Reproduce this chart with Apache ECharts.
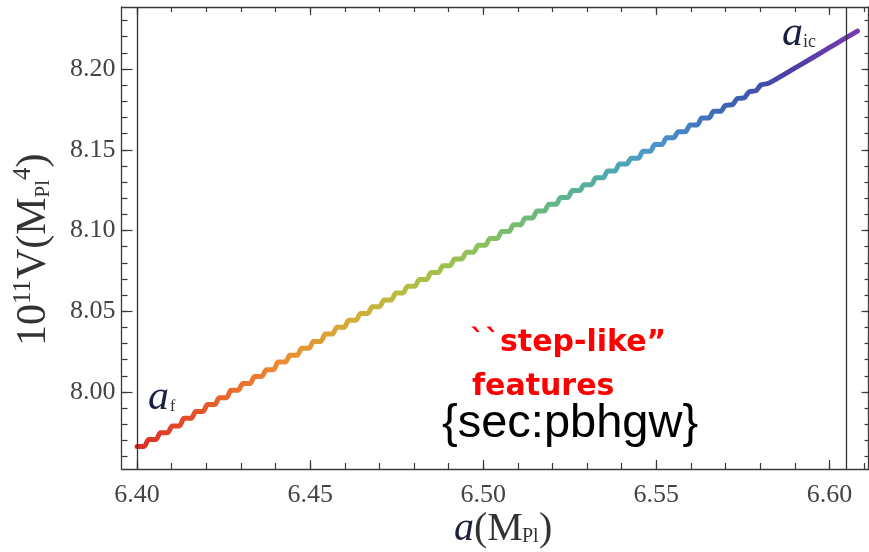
<!DOCTYPE html>
<html><head><meta charset="utf-8">
<script src="https://cdn.jsdelivr.net/npm/echarts@6/dist/echarts.min.js"></script>
<style>html,body{margin:0;padding:0;background:#fff}#c{width:869px;height:552px}</style>
</head><body><div id="c"></div>
<script>
// field values a (M_Pl)
const aValues = [
6.4000,6.4020,6.4034,6.4054,6.4068,6.4088,6.4102,6.4122,6.4136,6.4156,
6.4170,6.4190,6.4204,6.4224,6.4238,6.4258,6.4272,6.4292,6.4306,6.4326,
6.4340,6.4360,6.4374,6.4394,6.4408,6.4428,6.4442,6.4462,6.4476,6.4496,
6.4510,6.4530,6.4544,6.4564,6.4578,6.4598,6.4612,6.4632,6.4646,6.4666,
6.4680,6.4700,6.4714,6.4734,6.4748,6.4768,6.4782,6.4802,6.4816,6.4836,
6.4850,6.4870,6.4884,6.4904,6.4918,6.4938,6.4952,6.4972,6.4986,6.5006,
6.5020,6.5040,6.5054,6.5074,6.5088,6.5108,6.5122,6.5142,6.5156,6.5176,
6.5190,6.5210,6.5224,6.5244,6.5258,6.5278,6.5292,6.5312,6.5326,6.5346,
6.5360,6.5380,6.5394,6.5414,6.5428,6.5448,6.5462,6.5482,6.5496,6.5516,
6.5530,6.5550,6.5564,6.5584,6.5598,6.5618,6.5632,6.5652,6.5666,6.5686,
6.5700,6.5720,6.5734,6.5754,6.5768,6.5788,6.5802,6.5822,
6.5850,6.5900,6.5950,6.6000,6.6040,6.6081];
// potential values 10^11 V (M_Pl^4)
const vValues = [
7.9663,7.9663,7.9705,7.9705,7.9748,7.9748,7.9790,7.9790,7.9837,7.9837,
7.9879,7.9879,7.9922,7.9922,7.9964,7.9964,8.0011,8.0011,8.0053,8.0053,
8.0096,8.0096,8.0138,8.0138,8.0185,8.0185,8.0227,8.0227,8.0270,8.0270,
8.0312,8.0312,8.0359,8.0359,8.0401,8.0401,8.0444,8.0444,8.0486,8.0486,
8.0528,8.0528,8.0570,8.0570,8.0613,8.0613,8.0655,8.0655,8.0697,8.0697,
8.0740,8.0740,8.0782,8.0782,8.0824,8.0824,8.0866,8.0866,8.0909,8.0909,
8.0951,8.0951,8.0993,8.0993,8.1035,8.1035,8.1078,8.1078,8.1120,8.1120,
8.1162,8.1162,8.1204,8.1204,8.1247,8.1247,8.1284,8.1284,8.1326,8.1326,
8.1368,8.1368,8.1411,8.1411,8.1448,8.1448,8.1490,8.1490,8.1532,8.1532,
8.1575,8.1575,8.1612,8.1612,8.1654,8.1654,8.1697,8.1697,8.1739,8.1739,
8.1775,8.1779,8.1817,8.1822,8.1859,8.1866,8.1901,8.1910,
8.1942,8.2005,8.2068,8.2132,8.2183,8.2235];
const xMajorTicks = [6.40, 6.45, 6.50, 6.55, 6.60];
const xMinorTicks = [6.40,6.41,6.42,6.43,6.44,6.45,6.46,6.47,6.48,6.49,6.50,6.51,6.52,6.53,6.54,6.55,6.56,6.57,6.58,6.59,6.60,6.61];
const yMajorTicks = [8.00, 8.05, 8.10, 8.15, 8.20];
const yMinorTicks = [7.96,7.97,7.98,7.99,8.00,8.01,8.02,8.03,8.04,8.05,8.06,8.07,8.08,8.09,8.10,8.11,8.12,8.13,8.14,8.15,8.16,8.17,8.18,8.19,8.20,8.21,8.22,8.23];
const markerLines = [6.40, 6.605];
const X_MIN = 6.3955, X_MAX = 6.6113, Y_MIN = 7.9523, Y_MAX = 8.2384;

const chart = echarts.init(document.getElementById('c'));
const frame = '#3a3a3a';
function xAx(pos, ticks, len, line, labels) {
  return {type:'value', position:pos, min:X_MIN, max:X_MAX,
    axisLine:{show:line, onZero:false, lineStyle:{color:frame, width:1.3}},
    axisTick:{show:true, inside:true, length:len, customValues:ticks, lineStyle:{color:frame, width:1.2}},
    axisLabel: labels ? {show:true, customValues:xMajorTicks, formatter:v=>v.toFixed(2), margin:13,
      fontSize:26, fontFamily:'Liberation Serif', color:'#444'} : {show:false},
    splitLine:{show:false}};
}
function yAx(pos, ticks, len, line, labels) {
  return {type:'value', position:pos, min:Y_MIN, max:Y_MAX,
    axisLine:{show:line, onZero:false, lineStyle:{color:frame, width:1.3}},
    axisTick:{show:true, inside:true, length:len, customValues:ticks, lineStyle:{color:frame, width:1.2}},
    axisLabel: labels ? {show:true, customValues:yMajorTicks, formatter:v=>v.toFixed(2), margin:6,
      fontSize:26, fontFamily:'Liberation Serif', color:'#444'} : {show:false},
    splitLine:{show:false}};
}
const data = aValues.map((a,i)=>[a, vValues[i]]);
const grad = new echarts.graphic.LinearGradient(0,0,1,0,[
  {offset:0, color:'#dc2b26'},{offset:0.12, color:'#e8642c'},{offset:0.2, color:'#ee8a30'},
  {offset:0.3, color:'#d4ac38'},{offset:0.38, color:'#b3be40'},{offset:0.47, color:'#8dc25a'},
  {offset:0.58, color:'#62b688'},{offset:0.66, color:'#4ea8b0'},{offset:0.72, color:'#4a94cf'},
  {offset:0.82, color:'#3f63b3'},{offset:0.9, color:'#4a3fa5'},{offset:1, color:'#7a3ab0'}]);

function T(x,y,text,font,fill){return {type:'text', x:x, y:y, style:{text:text, font:font, fill:fill, textAlign:'left', textVerticalAlign:'middle'}};}
const serif = '"Liberation Serif"';
const F = 42, FS = 25, FP = 21;
chart.setOption({
  animation:false,
  grid:{left:121.5, right:0.5, top:7, bottom:83, containLabel:false},
  xAxis:[xAx('bottom', xMajorTicks, 9, true, true), xAx('bottom', xMinorTicks, 6, false, false),
         xAx('top', xMinorTicks, 5, true, false), xAx('top', xMajorTicks, 8, false, false)],
  yAxis:[yAx('left', yMajorTicks, 11, true, true), yAx('left', yMinorTicks, 6, false, false),
         yAx('right', yMinorTicks, 4, true, false), yAx('right', yMajorTicks, 7, false, false)],
  series:[{type:'line', xAxisIndex:0, yAxisIndex:0, data:data, symbol:'none', showSymbol:false, smooth:0.3,
    lineStyle:{width:5, color:grad, cap:'round', join:'round'}, z:2},
    {type:'line', xAxisIndex:0, yAxisIndex:0, data:[], symbol:'none', z:3,
     markLine:{silent:true, symbol:['none','none'], label:{show:false}, animation:false, precision:4,
      lineStyle:{color:'#333', width:1.3, type:'solid'},
      data: markerLines.map(v=>[{coord:[v, Y_MIN]}, {coord:[v, Y_MAX]}])}}],
  graphic:[
    // a_f
    T(148, 412-0.3375*42, 'a', 'italic 42px '+serif, '#1b2040'),
    T(170, 412-0.3375*16, 'f', '16px '+serif, '#333'),
    // a_ic
    T(782, 48-0.3375*42, 'a', 'italic 42px '+serif, '#1b2040'),
    T(803, 48-0.3375*18, 'ic', '18px '+serif, '#333'),
    // annotations
    T(470, 343, '``step-like\u201d', 'bold 30px "DejaVu Sans"', '#ff0000'),
    T(472, 387, 'features', 'bold 30px "DejaVu Sans"', '#ff0000'),
    T(442, 424, '{sec:pbhgw}', '47px "Liberation Sans"', '#000'),
    // x axis title a(M_Pl)
    T(454, 543-0.3375*40, 'a', 'italic 40px '+serif, '#1b2040'),
    T(474, 543-0.3375*40, '(M', '40px '+serif, '#333'),
    T(522, 543-0.3375*20, 'Pl', '20px '+serif, '#333'),
    T(539, 543-0.3375*40, ')', '40px '+serif, '#333'),
    // y axis title 10^11 V(M_Pl^4)
    {type:'group', x:48, y:346, rotation:Math.PI/2, children:[
      T(0, -0.3375*F, '10', F+'px '+serif, '#333'),
      T(42, -16-0.3375*FS, '11', FS+'px '+serif, '#333'),
      T(67, -0.3375*F, 'V(M', F+'px '+serif, '#333'),
      T(148.6, 3-0.3375*FP, 'Pl', FP+'px '+serif, '#333'),
      T(166, -16-0.3375*FS, '4', FS+'px '+serif, '#333'),
      T(178.5, -0.3375*F, ')', F+'px '+serif, '#333')
    ]}
  ]
});
</script></body></html>
